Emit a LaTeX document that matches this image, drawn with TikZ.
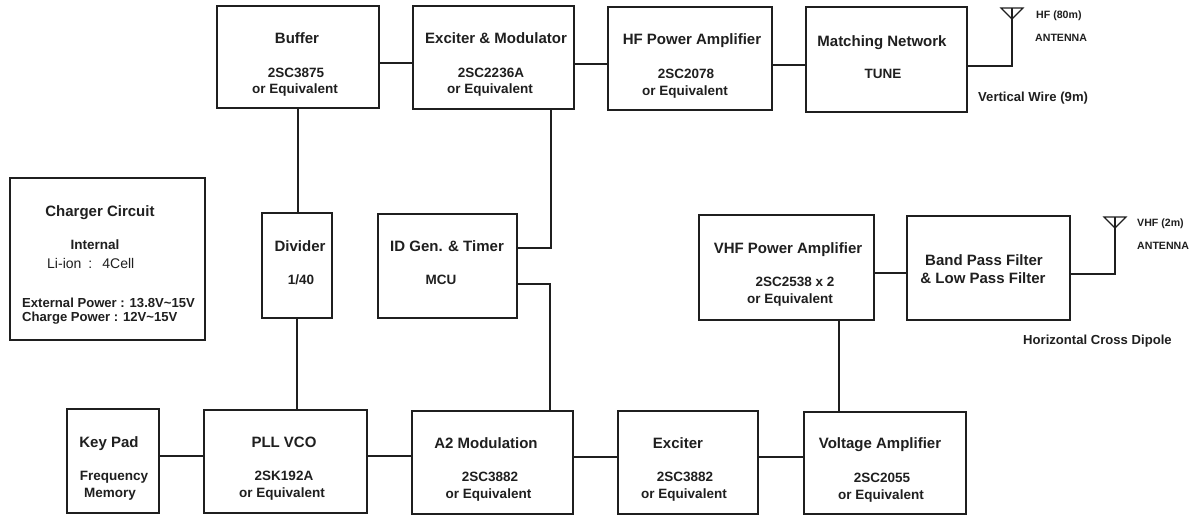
\documentclass[tikz,border=0pt]{standalone}
\usepackage{fontspec}
\setmainfont{Liberation Sans}
\usetikzlibrary{calc}
\tikzset{
  x=1pt,y=-1pt,
  bx/.style={draw=black!88,line width=1.4pt,fill=white,inner sep=0pt,outer sep=0pt,align=center},
  ln/.style={draw=black!88,line width=1.1pt},
  tb/.style={font=\fontsize{15}{17}\selectfont\bfseries,inner sep=0pt,text=black!88,text height=10.8pt,text depth=0pt},
  tv/.style={font=\fontsize{13.5}{16.5}\selectfont\bfseries,inner sep=0pt,text=black!88,text height=9.7pt,text depth=0pt},
  tr/.style={font=\fontsize{14}{16}\selectfont,anchor=west,inner sep=0pt,text=black!88,text height=10pt,text depth=0pt},
  tn/.style={font=\fontsize{13.1}{16}\selectfont\bfseries,anchor=west,inner sep=0pt,text=black!88,text height=9.4pt,text depth=0pt},
  tm/.style={font=\fontsize{10.6}{12}\selectfont\bfseries,anchor=west,inner sep=0pt,text=black!88,text height=7.6pt,text depth=0pt},
}
\newcommand{\blk}[5]{% name,x0,y0,x1,y1
  \node[bx,minimum width=#4pt-#2pt,minimum height=#5pt-#3pt] (#1) at ({(#2+#4)/2},{(#3+#5)/2}) {};}
\begin{document}
\begin{tikzpicture}
\useasboundingbox (0,0) rectangle (1195,515);
\blk{buf}{217}{6}{379}{108}
\blk{exm}{413}{6}{574}{109}
\blk{hfp}{608}{7}{772}{110}
\blk{mat}{806}{7}{967}{112}
\blk{chg}{10}{178}{205}{340}
\blk{div}{262}{213}{332}{318}
\blk{idg}{378}{214}{517}{318}
\blk{vhf}{699}{215}{874}{320}
\blk{bpf}{907}{216}{1070}{320}
\blk{key}{67}{409}{159}{513}
\blk{pll}{204}{410}{367}{513}
\blk{a2m}{412}{411}{573}{514}
\blk{exc}{618}{411}{758}{514}
\blk{vol}{804}{412}{966}{514}
% connectors
\draw[ln] (buf.east |- 0,63) -- (exm.west |- 0,63);
\draw[ln] (exm.east |- 0,64) -- (hfp.west |- 0,64);
\draw[ln] (hfp.east |- 0,65) -- (mat.west |- 0,65);
\draw[ln] (buf.south -| 298,0) -- (div.north -| 298,0);
\draw[ln] (div.south -| 297,0) -- (pll.north -| 297,0);
\draw[ln] (exm.south -| 551,0) -- (551,248) -- (idg.east |- 0,248);
\draw[ln] (idg.east |- 0,284) -- (550,284) -- (a2m.north -| 550,0);
\draw[ln] (vhf.south -| 839,0) -- (vol.north -| 839,0);
\draw[ln] (vhf.east |- 0,273) -- (bpf.west |- 0,273);
\draw[ln] (key.east |- 0,456) -- (pll.west |- 0,456);
\draw[ln] (pll.east |- 0,456) -- (a2m.west |- 0,456);
\draw[ln] (a2m.east |- 0,457) -- (exc.west |- 0,457);
\draw[ln] (exc.east |- 0,457) -- (vol.west |- 0,457);
% antennas
\coordinate (ahf) at (1012,19);
\coordinate (avh) at (1115,228);
\draw[ln] (mat.east |- 0,66) -- (ahf |- 0,66) -- (ahf);
\draw[ln] (bpf.east |- 0,274) -- (avh |- 0,274) -- (avh);
\foreach \a in {ahf,avh}{
  \draw[ln,line join=miter] ($(\a)+(-11,-11)$) -- ($(\a)+(11,-11)$) -- (\a) -- cycle;
  \draw[ln] (\a) -- ($(\a)+(0,-11)$);
}
% texts
\node[tb] (t1) at (297,38) {Buffer};
\node[tv] (v1a) at (296,73) {2SC3875};
\node[tv] (v1b) at (295,89) {or Equivalent};
\node[tb] (t2) at (496,38) {Exciter \& Modulator};
\node[tv] (v2a) at (491,73) {2SC2236A};
\node[tv] (v2b) at (490,89) {or Equivalent};
\node[tb] (t3) at (692,39) {HF Power Amplifier};
\node[tv] (v3a) at (686,74) {2SC2078};
\node[tv] (v3b) at (685,91) {or Equivalent};
\node[tb] (t4) at (882,41) {Matching Network};
\node[tv] (v4) at (883,74) {TUNE};
\node[tm] (a1) at (1036,15) {HF (80m)};
\node[tm] (a2) at (1035,38) {ANTENNA};
\node[tn] (n1) at (978,97) {Vertical Wire (9m)};
\node[tb] (t5) at (100,211) {Charger Circuit};
\node[tv] (v5) at (95,245) {Internal};
\node[tr] (r1) at (47,263) {Li-ion\hspace{3pt} :\hspace{5pt} 4Cell};
\node[tn] (n2) at (22,303) {External Power : 13.8V\textasciitilde15V};
\node[tn] (n3) at (22,317) {Charge Power : 12V\textasciitilde15V};
\node[tb] (t6) at (300,246) {Divider};
\node[tv] (v6) at (301,280) {1/40};
\node[tb] (t7) at (447,246) {ID Gen. \& Timer};
\node[tv] (v7) at (441,280) {MCU};
\node[tb] (t8) at (788,248) {VHF Power Amplifier};
\node[tv] (v8a) at (795,282) {2SC2538 x 2};
\node[tv] (v8b) at (790,299) {or Equivalent};
\node[tb] (t9) at (984,260) {Band Pass Filter};
\node[tb] (t9b) at (983,278) {\& Low Pass Filter};
\node[tm] (a3) at (1137,223) {VHF (2m)};
\node[tm] (a4) at (1137,246) {ANTENNA};
\node[tn] (n4) at (1023,340) {Horizontal Cross Dipole};
\node[tb] (t10) at (109,442) {Key Pad};
\node[tv] (v10a) at (114,476) {Frequency};
\node[tv] (v10b) at (110,493) {Memory};
\node[tb] (t11) at (284,442) {PLL VCO};
\node[tv] (v11a) at (284,476) {2SK192A};
\node[tv] (v11b) at (282,493) {or Equivalent};
\node[tb] (t12) at (486,443) {A2 Modulation};
\node[tv] (v12a) at (490,477) {2SC3882};
\node[tv] (v12b) at (488.5,494) {or Equivalent};
\node[tb] (t13) at (678,443) {Exciter};
\node[tv] (v13a) at (685,477) {2SC3882};
\node[tv] (v13b) at (684,494) {or Equivalent};
\node[tb] (t14) at (880,443) {Voltage Amplifier};
\node[tv] (v14a) at (882,478) {2SC2055};
\node[tv] (v14b) at (881,495) {or Equivalent};
\end{tikzpicture}
\end{document}
